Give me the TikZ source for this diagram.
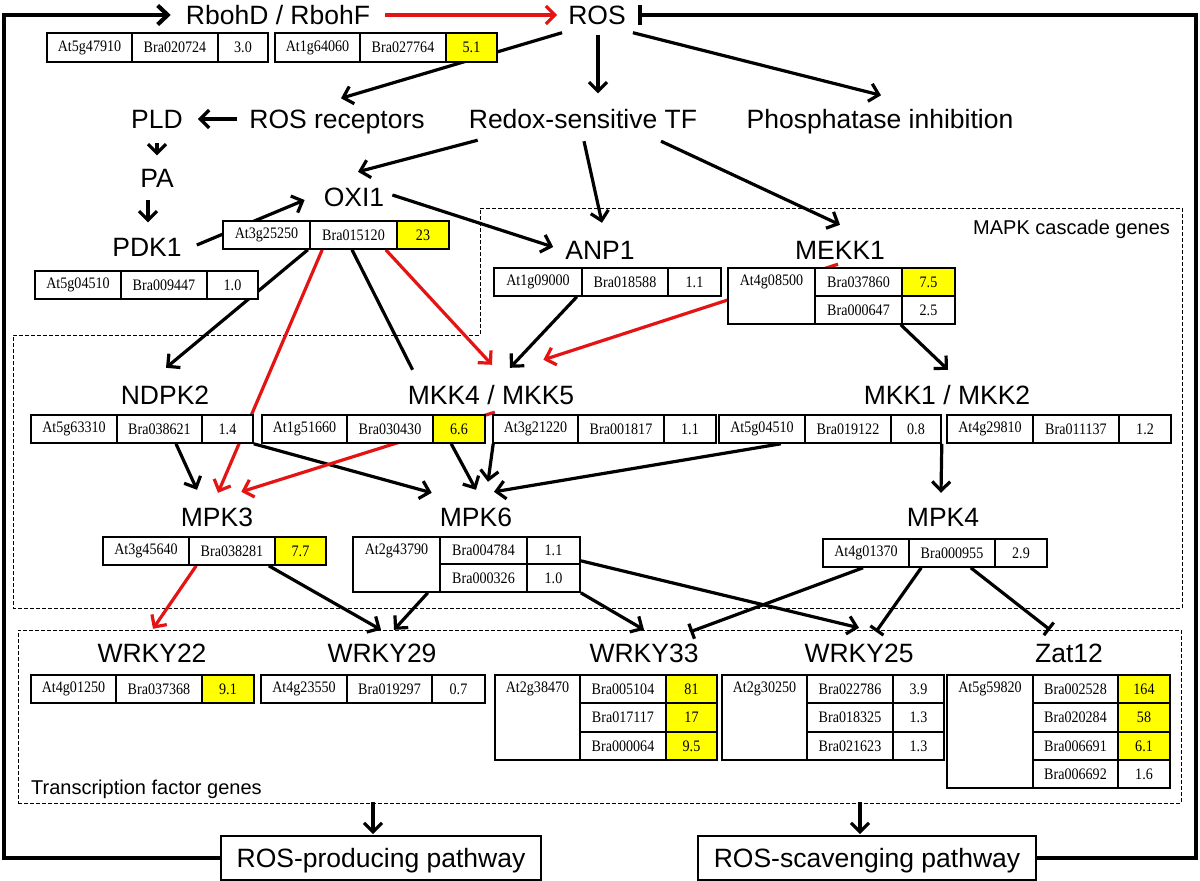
\documentclass[tikz,border=0pt]{standalone}
\usepackage{fontspec}
\newfontfamily\lblfont{Liberation Sans}
\newfontfamily\tabfont[FakeStretch=0.88]{Liberation Serif}
\usetikzlibrary{arrows.meta,calc}
\definecolor{rr}{RGB}{228,20,20}
\definecolor{yy}{RGB}{255,255,0}
\pgfdeclarelayer{edges}
\pgfsetlayers{edges,main}
\tikzset{
 lab/.style={font=\lblfont\fontsize{26.5}{28}\selectfont, inner sep=0pt, text height=19pt, text depth=0pt},
 small/.style={font=\lblfont\fontsize{20}{22}\selectfont, inner sep=0pt, text height=14.3pt, text depth=0pt},
 cell/.style={draw, line width=1.6pt, fill=white, inner sep=0pt, font=\tabfont\fontsize{16}{17}\selectfont},
 celltext/.style={inner sep=0pt, font=\tabfont\fontsize{16}{17}\selectfont},
 arr/.style={line width=3.2pt, -{Straight Barb[length=9pt,width=18pt]}},
 redarr/.style={arr, draw=rr},
 inh/.style={line width=3.2pt, -{Bar[width=16pt]}},
 fb/.style={line width=4.2pt},
 dbox/.style={line width=1pt, dash pattern=on 4pt off 2pt},
 pbox/.style={draw, line width=1.6pt, fill=white, inner sep=0pt, font=\lblfont\fontsize{26.5}{28}\selectfont, text height=19pt, text depth=0pt},
}
\newcommand{\gcell}[7][]{\node[cell,#1,minimum width={(#5)-(#3)},minimum height={(#6)-(#4)}] (#2) at ({((#3)+(#5))/2},{((#4)+(#6))/2}) {#7};}
\begin{document}
\begin{tikzpicture}[x=1pt,y=-1pt]
\begin{pgfonlayer}{edges}
\fill[white] (0,0) rectangle (1200,881);
\end{pgfonlayer}
\useasboundingbox (0,0) rectangle (1200,881);

% ---------- labels ----------
\node[lab] (rboh) at (278,15) {RbohD / RbohF};
\node[lab] (ros) at (597,15) {ROS};
\node[lab] (rec) at (337,119) {ROS receptors};
\node[lab] (pld) at (157,119) {PLD};
\node[lab] (redox) at (583,119) {Redox-sensitive TF};
\node[lab] (phos) at (880,119) {Phosphatase inhibition};
\node[lab] (pa) at (157,178) {PA};
\node[lab] (pdk) at (147,247) {PDK1};
\node[lab] (oxi) at (354,197) {OXI1};
\node[lab] (anp) at (600,250) {ANP1};
\node[lab] (mekk) at (840,250) {MEKK1};
\node[small,anchor=west] (mapk) at (973,227) {MAPK cascade genes};
\node[lab] (ndpk) at (165,395) {NDPK2};
\node[lab] (mkk45) at (491,395) {MKK4 / MKK5};
\node[lab] (mkk12) at (947,395) {MKK1 / MKK2};
\node[lab] (mpk3) at (217,517) {MPK3};
\node[lab] (mpk6) at (476,517) {MPK6};
\node[lab] (mpk4) at (943,517) {MPK4};
\node[lab] (w22) at (152,653) {WRKY22};
\node[lab] (w29) at (382,653) {WRKY29};
\node[lab] (w33) at (644,653) {WRKY33};
\node[lab] (w25) at (859,653) {WRKY25};
\node[lab] (zat) at (1069,653) {Zat12};
\node[small,anchor=west] (tfl) at (31,787) {Transcription factor genes};
\node[pbox,minimum width=320,minimum height=44] (prod) at (381,858) {ROS-producing pathway};
\node[pbox,minimum width=338,minimum height=44] (scav) at (867,858) {ROS-scavenging pathway};

% ---------- tables ----------
\gcell{rA}{47}{33}{132}{62}{At5g47910}
\gcell{rB}{132}{33}{218}{62}{Bra020724}
\gcell{rC}{218}{33}{268}{62}{3.0}
\gcell{fA}{275}{33}{360}{62}{At1g64060}
\gcell{fB}{360}{33}{446}{62}{Bra027764}
\gcell[fill=yy]{fC}{446}{33}{497}{62}{5.1}

\gcell{oxiA}{223}{221}{310}{249}{At3g25250}
\gcell{oxiB}{310}{221}{397}{249}{Bra015120}
\gcell[fill=yy]{oxiC}{397}{221}{449}{249}{23}

\gcell{pdkA}{35}{271}{121}{299}{At5g04510}
\gcell{pdkB}{121}{271}{207}{299}{Bra009447}
\gcell{pdkC}{207}{271}{258}{299}{1.0}

\gcell{anpA}{494}{268}{582}{296}{At1g09000}
\gcell{anpB}{582}{268}{668}{296}{Bra018588}
\gcell{anpC}{668}{268}{721}{296}{1.1}

\gcell{mekkA}{728}{268}{815}{324}{}
\node[celltext] (mekkAt) at (771.5,282) {At4g08500};
\gcell{mekkB1}{815}{268}{902}{296}{Bra037860}
\gcell[fill=yy]{mekkC1}{902}{268}{955}{296}{7.5}
\gcell{mekkB2}{815}{296}{902}{324}{Bra000647}
\gcell{mekkC2}{902}{296}{955}{324}{2.5}

\gcell{ndpkA}{31}{415}{117}{443}{At5g63310}
\gcell{ndpkB}{117}{415}{202}{443}{Bra038621}
\gcell{ndpkC}{202}{415}{253}{443}{1.4}

\gcell{mkkA}{262}{415}{347}{443}{At1g51660}
\gcell{mkkB}{347}{415}{433}{443}{Bra030430}
\gcell[fill=yy]{mkkC}{433}{415}{485}{443}{6.6}

\gcell{mkk5A}{493}{415}{578}{443}{At3g21220}
\gcell{mkk5B}{578}{415}{664}{443}{Bra001817}
\gcell{mkk5C}{664}{415}{716}{443}{1.1}

\gcell{mkk1A}{719}{415}{805}{443}{At5g04510}
\gcell{mkk1B}{805}{415}{891}{443}{Bra019122}
\gcell{mkk1C}{891}{415}{941}{443}{0.8}

\gcell{mkk2A}{947}{415}{1033}{443}{At4g29810}
\gcell{mkk2B}{1033}{415}{1119}{443}{Bra011137}
\gcell{mkk2C}{1119}{415}{1171}{443}{1.2}

\gcell{mpk3A}{103}{537}{189}{565}{At3g45640}
\gcell{mpk3B}{189}{537}{275}{565}{Bra038281}
\gcell[fill=yy]{mpk3C}{275}{537}{326}{565}{7.7}

\gcell{mpk6A}{353}{537}{440}{592}{}
\node[celltext] (mpk6At) at (396.5,550.5) {At2g43790};
\gcell{mpk6B1}{440}{537}{527}{564}{Bra004784}
\gcell{mpk6C1}{527}{537}{580}{564}{1.1}
\gcell{mpk6B2}{440}{564}{527}{592}{Bra000326}
\gcell{mpk6C2}{527}{564}{580}{592}{1.0}

\gcell{mpk4A}{823}{539}{909}{567}{At4g01370}
\gcell{mpk4B}{909}{539}{995}{567}{Bra000955}
\gcell{mpk4C}{995}{539}{1047}{567}{2.9}

\gcell{w22A}{31}{675}{116}{703}{At4g01250}
\gcell{w22B}{116}{675}{202}{703}{Bra037368}
\gcell[fill=yy]{w22C}{202}{675}{254}{703}{9.1}

\gcell{w29A}{261}{675}{347}{703}{At4g23550}
\gcell{w29B}{347}{675}{432}{703}{Bra019297}
\gcell{w29C}{432}{675}{485}{703}{0.7}

\gcell{w33A}{495}{675}{580}{760}{}
\node[celltext] (w33At) at (537.5,689) {At2g38470};
\gcell{w33B1}{580}{675}{666}{703}{Bra005104}
\gcell[fill=yy]{w33C1}{666}{675}{717}{703}{81}
\gcell{w33B2}{580}{703}{666}{732}{Bra017117}
\gcell[fill=yy]{w33C2}{666}{703}{717}{732}{17}
\gcell{w33B3}{580}{732}{666}{760}{Bra000064}
\gcell[fill=yy]{w33C3}{666}{732}{717}{760}{9.5}

\gcell{w25A}{722}{675}{807}{760}{}
\node[celltext] (w25At) at (764.5,689) {At2g30250};
\gcell{w25B1}{807}{675}{893}{703}{Bra022786}
\gcell{w25C1}{893}{675}{944}{703}{3.9}
\gcell{w25B2}{807}{703}{893}{732}{Bra018325}
\gcell{w25C2}{893}{703}{944}{732}{1.3}
\gcell{w25B3}{807}{732}{893}{760}{Bra021623}
\gcell{w25C3}{893}{732}{944}{760}{1.3}

\gcell{zatA}{947}{675}{1033}{788}{}
\node[celltext] (zatAt) at (990,689) {At5g59820};
\gcell{zatB1}{1033}{675}{1118}{703}{Bra002528}
\gcell[fill=yy]{zatC1}{1118}{675}{1170}{703}{164}
\gcell{zatB2}{1033}{703}{1118}{732}{Bra020284}
\gcell[fill=yy]{zatC2}{1118}{703}{1170}{732}{58}
\gcell{zatB3}{1033}{732}{1118}{760}{Bra006691}
\gcell[fill=yy]{zatC3}{1118}{732}{1170}{760}{6.1}
\gcell{zatB4}{1033}{760}{1118}{788}{Bra006692}
\gcell{zatC4}{1118}{760}{1170}{788}{1.6}

% ---------- connectors (behind the tables) ----------
\begin{pgfonlayer}{edges}
\draw[dbox] (480,208) -- (1182,208) -- (1182,608) -- (13,608) -- (13,335) -- (480,335) -- cycle;
\node[dbox,draw,minimum width=1163,minimum height=173,inner sep=0pt] (tfbox) at (599.5,716.5) {};
\coordinate (cl) at (4,15);
\coordinate (cr) at (1196,15);
\draw[fb,-{Straight Barb[length=10pt,width=19pt]}] (prod.west) -| (cl) -- ($(rboh.west)+(-15,0)$);
\draw[fb,-{Bar[width=20pt]}] (scav.east) -| (cr) -- ($(ros.east)+(12,0)$);
\draw[redarr] ($(rboh.east)+(15,0)$) -- ($(ros.west)+(-11,0)$);
\draw[arr] ($(ros.south west)+(-6,8)$) -- ($(rec.north)+(4,-11)$);
\draw[arr] ($(ros.south)+(1,10)$) -- ($(redox.north)+(15,-16)$);
\draw[arr] ($(ros.south east)+(7,8)$) -- ($(phos.north)+(1,-14)$);
\draw[arr] ($(rec.west)+(-12,0)$) -- ($(pld.east)+(15,0)$);
\draw[arr] ($(pld.south)+(0,14)$) -- ($(pa.north)+(0,-13)$);
\draw[arr] ($(pa.south)+(-9,12.5)$) -- ($(pdk.north)+(1,-15)$);
\draw[arr] ($(pdk.east)+(15,-2)$) -- ($(oxi.west)+(-19,3)$);
\draw[arr] ($(redox.south west)+(9,11.5)$) -- ($(oxi.north)+(4,-15.5)$);
\draw[arr] ($(oxi.east)+(8,-2)$) -- ($(anp.west)+(-12,-3)$);
\draw[arr] ($(redox.south)+(1,12.5)$) -- ($(anp.north)+(2,-17.5)$);
\draw[arr] ($(redox.south)+(78,12.5)$) -- ($(mekk.north)+(0,-15.5)$);
\draw[arr] ($(oxiA.south east)+(-3,0)$) -- ($(ndpk.north)+(1,-17.5)$);
\draw[redarr] ($(oxiB.south west)+(13,0)$) -- ($(mpk3.north)+(1,-14.5)$);
\draw[line width=3.2pt] ($(oxiB.south)+(-1.5,0)$) -- ($(mkk45.north west)+(5,-15.5)$);
\draw[redarr] ($(oxiB.south east)+(-12,0)$) -- ($(mkk45.north)+(1,-20.5)$);
\draw[arr] ($(anpA.south east)+(-6,0)$) -- ($(mkk45.north)+(19,-17.5)$);
\draw[redarr] ($(mekk.south)+(-2,4.5)$) -- ($(mkk45.north east)+(-31,-25.5)$);
\draw[arr] ($(mekkB2.south east)+(-2,0)$) -- ($(mkk12.north)+(1,-15.5)$);
\draw[arr] ($(ndpkB.south)+(16.5,0)$) -- ($(mpk3.north)+(-20,-17.5)$);
\draw[arr] (ndpkC.south east) -- ($(mpk6.north west)+(-8,-14.5)$);
\draw[redarr] ($(mkkC.north east)+(9,-2)$) -- ($(mpk3.north east)+(-12,-15.5)$);
\draw[arr] ($(mkkC.south west)+(19,0)$) -- ($(mpk6.north)+(0,-17.5)$);
\draw[arr] ($(mkk5A.south west)+(1,0)$) -- ($(mpk6.north)+(12,-25.5)$);
\draw[arr] ($(mkk1A.south east)+(-25,0)$) -- ($(mpk6.north)+(18,-15.5)$);
\draw[arr] (mkk1C.south east) -- ($(mpk4.north)+(-2,-14.5)$);
\draw[redarr] ($(mpk3B.south west)+(8,0)$) -- ($(w22.north)+(1,-14.5)$);
\draw[arr] ($(mpk3B.south east)+(-7,0)$) -- ($(w29.north)+(-1,-13.5)$);
\draw[arr] ($(mpk6A.south east)+(-13,0)$) -- ($(w29.north)+(12,-13.5)$);
\draw[arr] (mpk6C2.south east) -- ($(w33.north)+(0,-13.5)$);
\draw[arr] ($(mpk6C1.south east)+(0,-4)$) -- ($(w25.north)+(0,-15.5)$);
\draw[inh] ($(mpk4A.south)+(-3,0)$) -- ($(w33.north east)+(-8.5,-11.5)$);
\draw[inh] ($(mpk4B.south west)+(13,0)$) -- ($(w25.north)+(17,-11.5)$);
\draw[inh] ($(mpk4B.south east)+(-25,0)$) -- ($(zat.north)+(-19,-13.5)$);
\draw[arr] ($(prod.north)+(-8,-33)$) -- ($(prod.north)+(-8,-1)$);
\draw[arr] ($(scav.north)+(-7,-33)$) -- ($(scav.north)+(-7,-1)$);
\end{pgfonlayer}
\end{tikzpicture}
\end{document}
